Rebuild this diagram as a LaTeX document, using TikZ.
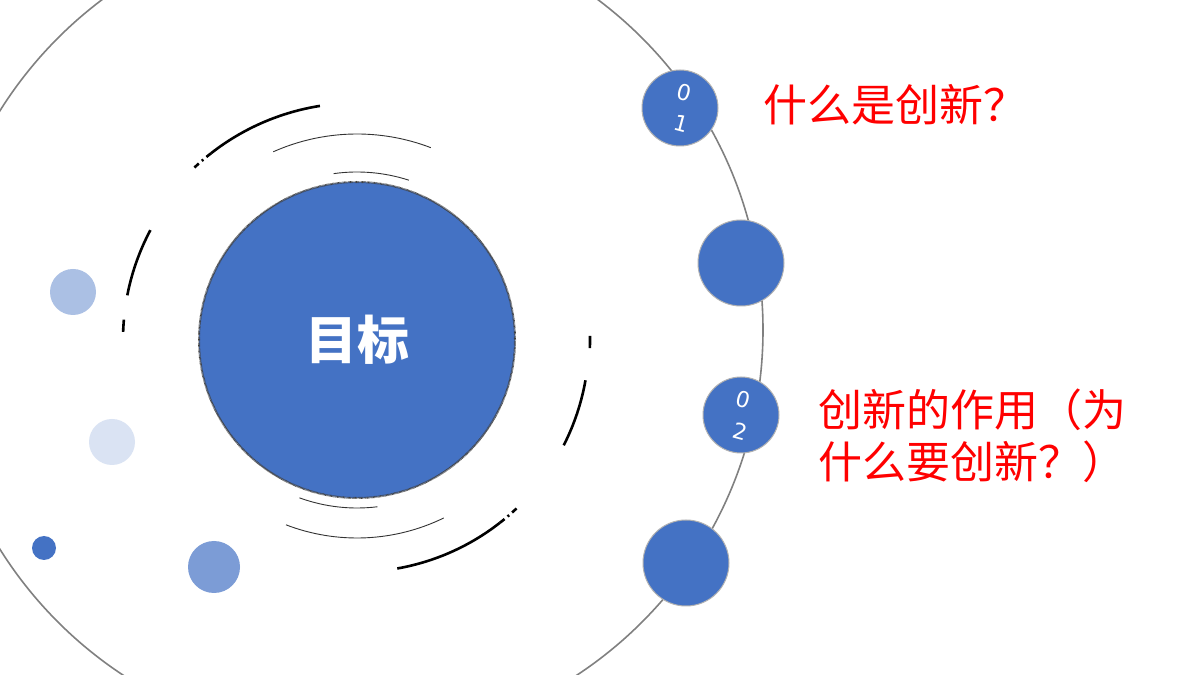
\documentclass[tikz,border=0pt]{standalone}
\usepackage{fontspec}
\newfontfamily\cjk{Noto Sans CJK SC}
\newfontfamily\numf{DejaVu Sans}
\definecolor{mblue}{HTML}{4472C4}
\definecolor{redt}{HTML}{FF0000}
\begin{document}
\begin{tikzpicture}[x=1pt,y=1pt,
  ball/.style={circle,fill=mblue,draw=gray!60,line width=1pt,inner sep=0pt},
  dig/.style={text=white,inner sep=0pt,rotate=-15,font=\numf\fontsize{22}{22}\selectfont},
  thick arc/.style={line width=2.6pt,black},
  thin arc/.style={line width=0.9pt,black!80},
  lbl/.style={text=redt,font=\cjk\fontsize{44}{54}\selectfont,anchor=west,align=left}]
\useasboundingbox (0,0) rectangle (1200,675);
\fill[white] (0,0) rectangle (1200,675);
\draw[gray,line width=1.6pt] (350,345) circle (413);
% decorative circles
\fill[mblue!45] (73,383) circle (23);
\fill[mblue!20] (112,233) circle (23);
\fill[mblue] (44,127) circle (12);
\fill[mblue!70] (214,108) circle (26);
% main circle
\node[circle,fill=mblue,draw=black!75,line width=2pt,dash pattern=on 0.6pt off 0.6pt,minimum size=316pt,inner sep=0pt,text=white,font=\cjk\bfseries\fontsize{52}{58}\selectfont] (m) at (357,335) {目标};
% arcs
\coordinate (c) at (357,335);
\draw[thick arc] ([shift={(99:237)}]c) arc (99:128:237);
\draw[thick arc,dash pattern=on 6pt off 4pt on 2pt off 4pt] ([shift={(128:237)}]c) arc (128:134:237);
\draw[thin arc] ([shift={(69:206)}]c) arc (69:114:206);
\draw[thin arc] ([shift={(72:168)}]c) arc (72:98:168);
\draw[thick arc] ([shift={(152:234)}]c) arc (152:169:234);
\draw[thick arc] ([shift={(175:234)}]c) arc (175:178:234);
\draw[thick arc] ([shift={(1:233)}]c) arc (1:-2:233);
\draw[thick arc] ([shift={(-10:232)}]c) arc (-10:-27:232);
\draw[thin arc] ([shift={(-64:198)}]c) arc (-64:-111:198);
\draw[thin arc] ([shift={(-83:168)}]c) arc (-83:-110:168);
\draw[thick arc] ([shift={(-80:232)}]c) arc (-80:-52:232);
\draw[thick arc,dash pattern=on 6pt off 4pt on 2pt off 4pt] ([shift={(-52:232)}]c) arc (-52:-46:232);
% small balls
\node[ball,minimum size=76pt] (b1) at (680,567) {};
\node[dig] (d1a) at (684,582) {0};
\node[dig] (d1b) at (681,551) {1};
\node[ball,minimum size=86pt] (b2) at (741,412) {};
\node[ball,minimum size=76pt] (b3) at (741,260) {};
\node[dig] (d3a) at (743,275) {0};
\node[dig] (d3b) at (740,244) {2};
\node[ball,minimum size=86pt] (b4) at (686,112) {};
% labels
\node[lbl] (t1) at (760,570) {什么是创新？};
\node[lbl] (t2) at (815,265) {创新的作用（为};
\node[lbl] (t3) at (815,213) {什么要创新？）};
\end{tikzpicture}
\end{document}
